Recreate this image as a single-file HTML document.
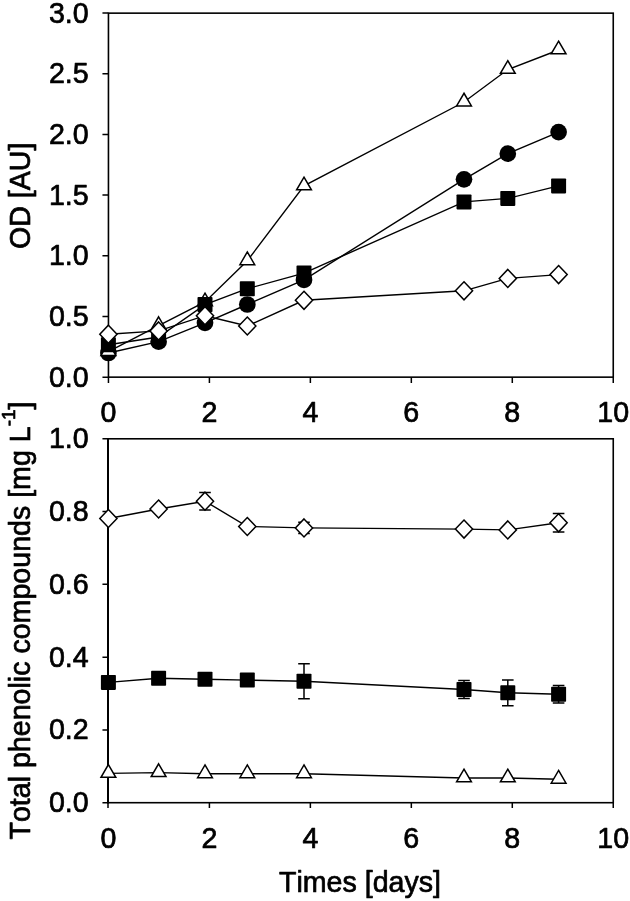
<!DOCTYPE html>
<html lang="en">
<head>
<meta charset="utf-8">
<title>OD and total phenolic compounds over time</title>
<style>
html,body{margin:0;padding:0;background:#fff;}
body{width:630px;height:901px;overflow:hidden;}
svg{display:block;}
</style>
</head>
<body>
<svg width="630" height="901" viewBox="0 0 630 901">
<rect width="630" height="901" fill="#fff"/>
<rect x="108.45" y="13.15" width="504.80" height="364.00" fill="none" stroke="#000" stroke-width="1.6"/>
<rect x="108.2" y="438.8" width="505.05" height="363.90" fill="none" stroke="#000" stroke-width="1.6"/>
<path d="M108.0 438.0V803.5" fill="none" stroke="#000" stroke-width="2"/>
<path d="M102.45 377.15H108.45M102.45 316.47H108.45M102.45 255.80H108.45M102.45 195.12H108.45M102.45 134.45H108.45M102.45 73.77H108.45M102.45 13.10H108.45M102.45 802.70H108.0M102.45 729.92H108.0M102.45 657.14H108.0M102.45 584.36H108.0M102.45 511.58H108.0M102.45 438.80H108.0M108.45 377.15V382.95M108.00 802.7V807.90M209.41 377.15V382.95M209.41 802.7V807.90M310.37 377.15V382.95M310.37 802.7V807.90M411.33 377.15V382.95M411.33 802.7V807.90M512.29 377.15V382.95M512.29 802.7V807.90M613.25 377.15V382.95M613.25 802.7V807.90" fill="none" stroke="#000" stroke-width="1.5"/>
<g font-family="'Liberation Sans', sans-serif" font-size="28.6" fill="#000" stroke="#000" stroke-width="0.7" stroke-linejoin="round" style="font-kerning:none"><text x="88.7" y="386.6" text-anchor="end">0.0</text>
<text x="88.7" y="326.0" text-anchor="end">0.5</text>
<text x="88.7" y="265.3" text-anchor="end">1.0</text>
<text x="88.7" y="204.6" text-anchor="end">1.5</text>
<text x="88.7" y="143.9" text-anchor="end">2.0</text>
<text x="88.7" y="83.3" text-anchor="end">2.5</text>
<text x="88.7" y="22.6" text-anchor="end">3.0</text>
<text x="88.7" y="812.2" text-anchor="end">0.0</text>
<text x="88.7" y="739.4" text-anchor="end">0.2</text>
<text x="88.7" y="666.6" text-anchor="end">0.4</text>
<text x="88.7" y="593.9" text-anchor="end">0.6</text>
<text x="88.7" y="521.1" text-anchor="end">0.8</text>
<text x="88.7" y="448.3" text-anchor="end">1.0</text>
<text x="108.5" y="421.8" text-anchor="middle">0</text>
<text x="108.5" y="847.8" text-anchor="middle">0</text>
<text x="209.4" y="421.8" text-anchor="middle">2</text>
<text x="209.4" y="847.8" text-anchor="middle">2</text>
<text x="310.4" y="421.8" text-anchor="middle">4</text>
<text x="310.4" y="847.8" text-anchor="middle">4</text>
<text x="411.3" y="421.8" text-anchor="middle">6</text>
<text x="411.3" y="847.8" text-anchor="middle">6</text>
<text x="512.3" y="421.8" text-anchor="middle">8</text>
<text x="512.3" y="847.8" text-anchor="middle">8</text>
<text x="613.2" y="421.8" text-anchor="middle">10</text>
<text x="613.2" y="847.8" text-anchor="middle">10</text>
<text x="360" y="892.2" text-anchor="middle">Times [days]</text>
<text transform="translate(30.1 195.8) rotate(-90)" text-anchor="middle">OD [AU]</text>
<text transform="translate(30.1 620.5) rotate(-90)" text-anchor="middle">Total phenolic compounds [mg L<tspan dy="-14.7" font-size="19">-1</tspan><tspan dy="14.7">]</tspan></text></g>
<polyline points="108.4,353.0 158.6,341.7 205.0,322.8 247.3,304.5 304.0,279.9 464.0,179.3 507.8,153.7 558.6,132.1" fill="none" stroke="#000" stroke-width="1.4"/>
<circle cx="108.4" cy="353.0" r="8.35" fill="#000"/>
<circle cx="158.6" cy="341.7" r="8.35" fill="#000"/>
<circle cx="205.0" cy="322.8" r="8.35" fill="#000"/>
<circle cx="247.3" cy="304.5" r="8.35" fill="#000"/>
<circle cx="304.0" cy="279.9" r="8.35" fill="#000"/>
<circle cx="464.0" cy="179.3" r="8.35" fill="#000"/>
<circle cx="507.8" cy="153.7" r="8.35" fill="#000"/>
<circle cx="558.6" cy="132.1" r="8.35" fill="#000"/>
<polyline points="108.4,351.6 158.6,325.6 205.0,301.9 247.3,260.8 304.0,185.9 464.0,102.0 507.8,69.5 558.6,50.0" fill="none" stroke="#000" stroke-width="1.4"/>
<path d="M108.4 342.75L115.8 355.45L101.0 355.45Z" fill="#fff" stroke="#000" stroke-width="1.5" stroke-linejoin="miter"/>
<path d="M158.6 316.85L166.0 329.55L151.2 329.55Z" fill="#fff" stroke="#000" stroke-width="1.5" stroke-linejoin="miter"/>
<path d="M205.0 293.15L212.4 305.85L197.6 305.85Z" fill="#fff" stroke="#000" stroke-width="1.5" stroke-linejoin="miter"/>
<path d="M247.3 251.95L254.7 264.65L239.9 264.65Z" fill="#fff" stroke="#000" stroke-width="1.5" stroke-linejoin="miter"/>
<path d="M304.0 177.15L311.4 189.85L296.6 189.85Z" fill="#fff" stroke="#000" stroke-width="1.5" stroke-linejoin="miter"/>
<path d="M464.0 93.25L471.4 105.95L456.6 105.95Z" fill="#fff" stroke="#000" stroke-width="1.5" stroke-linejoin="miter"/>
<path d="M507.8 60.65L515.2 73.35L500.4 73.35Z" fill="#fff" stroke="#000" stroke-width="1.5" stroke-linejoin="miter"/>
<path d="M558.6 41.15L566.0 53.85L551.2 53.85Z" fill="#fff" stroke="#000" stroke-width="1.5" stroke-linejoin="miter"/>
<polyline points="108.4,344.7 158.6,337.0 205.0,304.6 247.3,288.7 304.0,273.1 464.0,201.9 507.8,198.4 558.6,185.9" fill="none" stroke="#000" stroke-width="1.4"/>
<rect x="100.9" y="337.2" width="15.0" height="15.0" rx="0.8" fill="#000"/>
<rect x="151.1" y="329.5" width="15.0" height="15.0" rx="0.8" fill="#000"/>
<rect x="197.5" y="297.1" width="15.0" height="15.0" rx="0.8" fill="#000"/>
<rect x="239.8" y="281.2" width="15.0" height="15.0" rx="0.8" fill="#000"/>
<rect x="296.5" y="265.6" width="15.0" height="15.0" rx="0.8" fill="#000"/>
<rect x="456.5" y="194.4" width="15.0" height="15.0" rx="0.8" fill="#000"/>
<rect x="500.3" y="190.9" width="15.0" height="15.0" rx="0.8" fill="#000"/>
<rect x="551.1" y="178.4" width="15.0" height="15.0" rx="0.8" fill="#000"/>
<polyline points="108.4,334.2 158.6,330.9 205.0,315.7 247.3,326.0 304.0,300.3 464.0,290.8 507.8,278.4 558.6,274.6" fill="none" stroke="#000" stroke-width="1.4"/>
<path d="M108.4 325.2L117.0 334.2L108.4 343.2L99.8 334.2Z" fill="#fff" stroke="#000" stroke-width="1.5" stroke-linejoin="miter"/>
<path d="M158.6 321.9L167.2 330.9L158.6 339.9L150.0 330.9Z" fill="#fff" stroke="#000" stroke-width="1.5" stroke-linejoin="miter"/>
<path d="M205.0 306.7L213.6 315.7L205.0 324.7L196.4 315.7Z" fill="#fff" stroke="#000" stroke-width="1.5" stroke-linejoin="miter"/>
<path d="M247.3 317.0L255.9 326.0L247.3 335.0L238.7 326.0Z" fill="#fff" stroke="#000" stroke-width="1.5" stroke-linejoin="miter"/>
<path d="M304.0 291.3L312.6 300.3L304.0 309.3L295.4 300.3Z" fill="#fff" stroke="#000" stroke-width="1.5" stroke-linejoin="miter"/>
<path d="M464.0 281.8L472.6 290.8L464.0 299.8L455.4 290.8Z" fill="#fff" stroke="#000" stroke-width="1.5" stroke-linejoin="miter"/>
<path d="M507.8 269.4L516.4 278.4L507.8 287.4L499.2 278.4Z" fill="#fff" stroke="#000" stroke-width="1.5" stroke-linejoin="miter"/>
<path d="M558.6 265.6L567.2 274.6L558.6 283.6L550.0 274.6Z" fill="#fff" stroke="#000" stroke-width="1.5" stroke-linejoin="miter"/>
<polyline points="108.4,773.4 158.6,772.6 205.0,773.8 247.3,773.8 304.0,773.8 464.0,778.0 507.8,778.0 558.6,779.2" fill="none" stroke="#000" stroke-width="1.4"/>
<path d="M108.4 764.55L115.8 777.25L101.0 777.25Z" fill="#fff" stroke="#000" stroke-width="1.5" stroke-linejoin="miter"/>
<path d="M158.6 763.85L166.0 776.55L151.2 776.55Z" fill="#fff" stroke="#000" stroke-width="1.5" stroke-linejoin="miter"/>
<path d="M205.0 764.95L212.4 777.65L197.6 777.65Z" fill="#fff" stroke="#000" stroke-width="1.5" stroke-linejoin="miter"/>
<path d="M247.3 764.95L254.7 777.65L239.9 777.65Z" fill="#fff" stroke="#000" stroke-width="1.5" stroke-linejoin="miter"/>
<path d="M304.0 764.95L311.4 777.65L296.6 777.65Z" fill="#fff" stroke="#000" stroke-width="1.5" stroke-linejoin="miter"/>
<path d="M464.0 769.15L471.4 781.85L456.6 781.85Z" fill="#fff" stroke="#000" stroke-width="1.5" stroke-linejoin="miter"/>
<path d="M507.8 769.15L515.2 781.85L500.4 781.85Z" fill="#fff" stroke="#000" stroke-width="1.5" stroke-linejoin="miter"/>
<path d="M558.6 770.45L566.0 783.15L551.2 783.15Z" fill="#fff" stroke="#000" stroke-width="1.5" stroke-linejoin="miter"/>
<polyline points="108.4,682.4 158.6,678.2 205.0,679.3 247.3,680.1 304.0,681.3 464.0,689.5 507.8,692.8 558.6,694.3" fill="none" stroke="#000" stroke-width="1.4"/>
<rect x="100.9" y="674.9" width="15.0" height="15.0" rx="0.8" fill="#000"/>
<rect x="151.1" y="670.7" width="15.0" height="15.0" rx="0.8" fill="#000"/>
<rect x="197.5" y="671.8" width="15.0" height="15.0" rx="0.8" fill="#000"/>
<rect x="239.8" y="672.6" width="15.0" height="15.0" rx="0.8" fill="#000"/>
<path d="M304.0 663.8V698.8M298.2 663.8H309.8M298.2 698.8H309.8" fill="none" stroke="#000" stroke-width="1.5"/>
<rect x="296.5" y="673.8" width="15.0" height="15.0" rx="0.8" fill="#000"/>
<path d="M464.0 680.4V698.6M458.2 680.4H469.8M458.2 698.6H469.8" fill="none" stroke="#000" stroke-width="1.5"/>
<rect x="456.5" y="682.0" width="15.0" height="15.0" rx="0.8" fill="#000"/>
<path d="M507.8 679.9V705.7M502.0 679.9H513.6M502.0 705.7H513.6" fill="none" stroke="#000" stroke-width="1.5"/>
<rect x="500.3" y="685.3" width="15.0" height="15.0" rx="0.8" fill="#000"/>
<path d="M558.6 685.5V703.1M552.8 685.5H564.4M552.8 703.1H564.4" fill="none" stroke="#000" stroke-width="1.5"/>
<rect x="551.1" y="686.8" width="15.0" height="15.0" rx="0.8" fill="#000"/>
<polyline points="108.4,518.5 158.6,509.0 205.0,501.2 247.3,526.5 304.0,527.9 464.0,529.1 507.8,529.9 558.6,522.8" fill="none" stroke="#000" stroke-width="1.4"/>
<path d="M108.4 509.5L117.0 518.5L108.4 527.5L99.8 518.5Z" fill="#fff" stroke="#000" stroke-width="1.5" stroke-linejoin="miter"/>
<path d="M158.6 500.0L167.2 509.0L158.6 518.0L150.0 509.0Z" fill="#fff" stroke="#000" stroke-width="1.5" stroke-linejoin="miter"/>
<path d="M205.0 492.4V510.0M199.2 492.4H210.8M199.2 510.0H210.8" fill="none" stroke="#000" stroke-width="1.5"/>
<path d="M205.0 492.2L213.6 501.2L205.0 510.2L196.4 501.2Z" fill="#fff" stroke="#000" stroke-width="1.5" stroke-linejoin="miter"/>
<path d="M247.3 517.5L255.9 526.5L247.3 535.5L238.7 526.5Z" fill="#fff" stroke="#000" stroke-width="1.5" stroke-linejoin="miter"/>
<path d="M304.0 522.2V533.6M298.2 522.2H309.8M298.2 533.6H309.8" fill="none" stroke="#000" stroke-width="1.5"/>
<path d="M304.0 518.9L312.6 527.9L304.0 536.9L295.4 527.9Z" fill="#fff" stroke="#000" stroke-width="1.5" stroke-linejoin="miter"/>
<path d="M464.0 520.1L472.6 529.1L464.0 538.1L455.4 529.1Z" fill="#fff" stroke="#000" stroke-width="1.5" stroke-linejoin="miter"/>
<path d="M507.8 520.9L516.4 529.9L507.8 538.9L499.2 529.9Z" fill="#fff" stroke="#000" stroke-width="1.5" stroke-linejoin="miter"/>
<path d="M558.6 513.5V532.1M552.8 513.5H564.4M552.8 532.1H564.4" fill="none" stroke="#000" stroke-width="1.5"/>
<path d="M558.6 513.8L567.2 522.8L558.6 531.8L550.0 522.8Z" fill="#fff" stroke="#000" stroke-width="1.5" stroke-linejoin="miter"/>
</svg>
</body>
</html>
